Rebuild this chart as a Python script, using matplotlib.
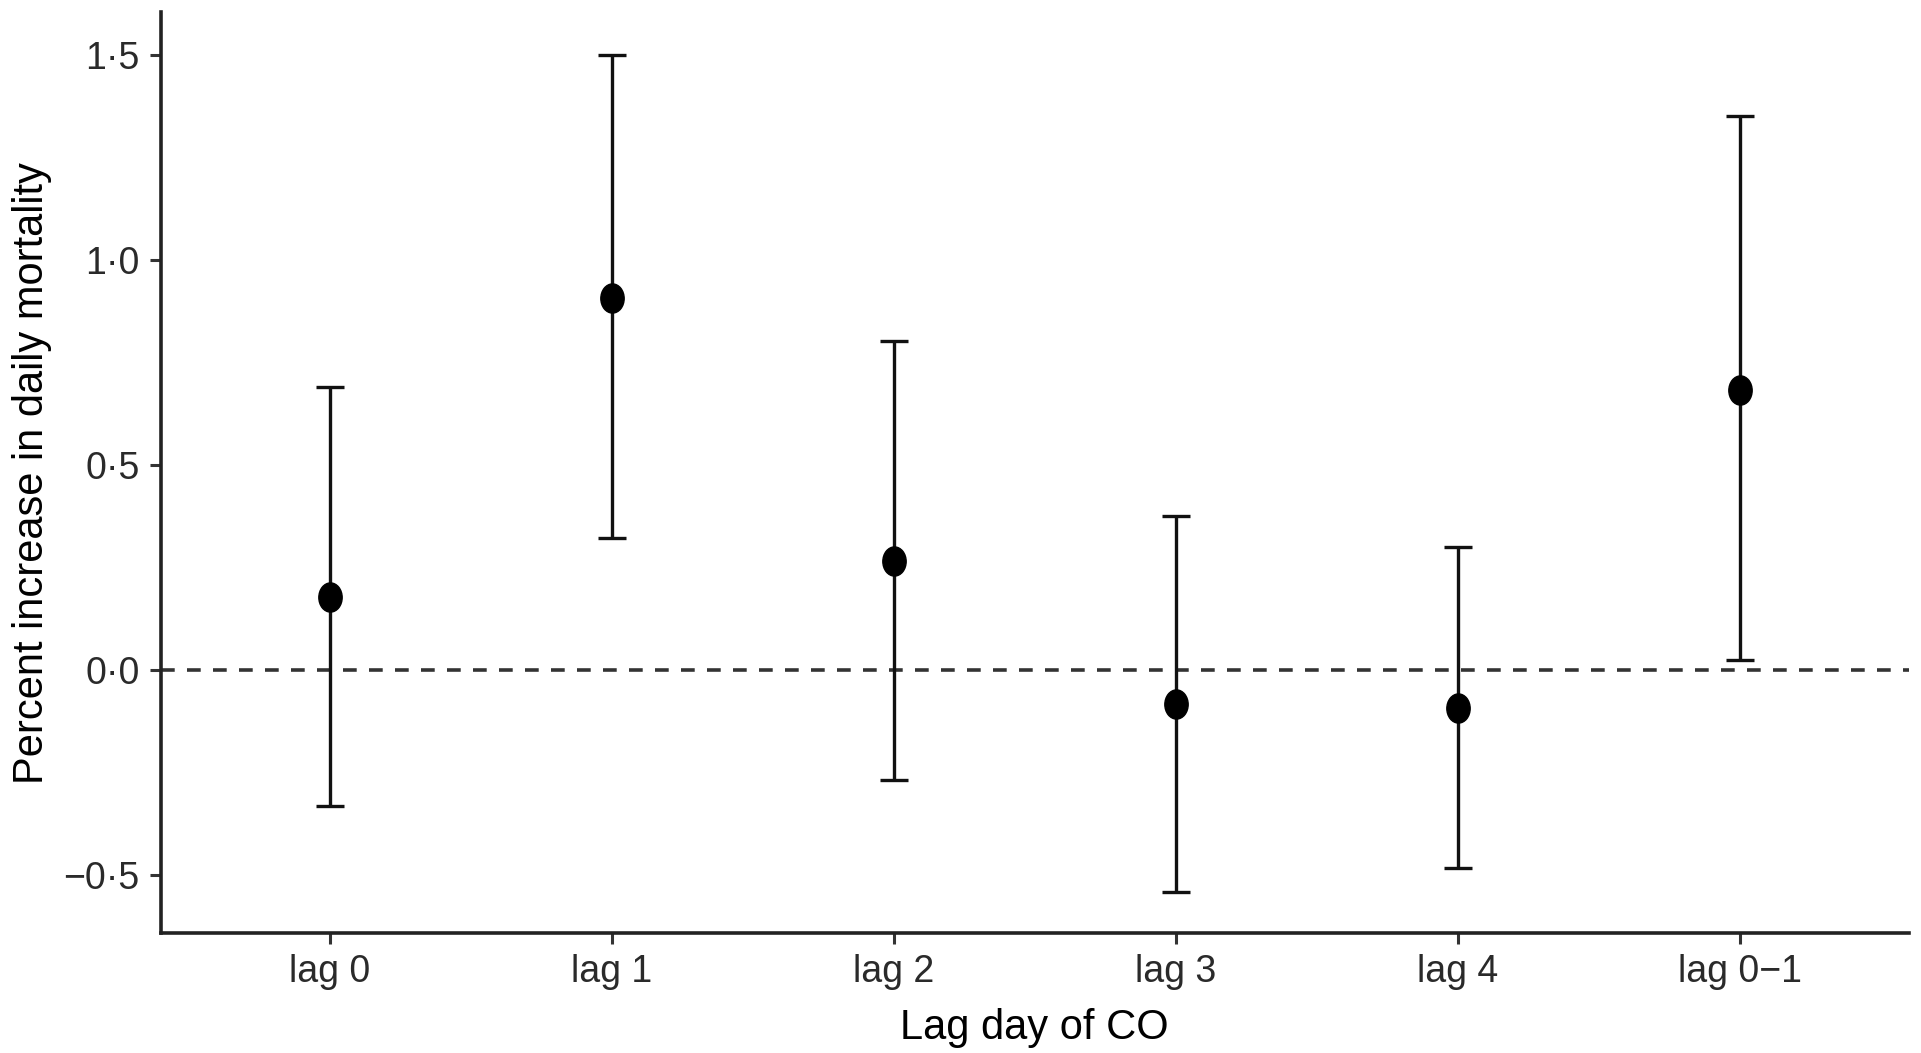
import matplotlib.pyplot as plt
from matplotlib.path import Path
from matplotlib.transforms import Affine2D

# data
lags = ["lag 0", "lag 1", "lag 2", "lag 3", "lag 4", "lag 0\u22121"]
estimate = [0.179, 0.909, 0.266, -0.084, -0.093, 0.684]
lower = [-0.332, 0.323, -0.269, -0.541, -0.484, 0.024]
upper = [0.690, 1.500, 0.804, 0.377, 0.299, 1.351]
yticks = [-0.5, 0.0, 0.5, 1.0, 1.5]

plt.rcParams['font.family'] = ['Liberation Sans', 'DejaVu Sans']

fig = plt.figure(figsize=(19.21, 10.53), dpi=100)
ax = fig.add_axes([0.0836, 0.1135, 0.91, 0.8748])

x = list(range(1, len(lags) + 1))
err_lo = [e - l for e, l in zip(estimate, lower)]
err_hi = [u - e for e, u in zip(estimate, upper)]

# slightly tall dots like in the original
dot = Path.unit_circle().transformed(Affine2D().scale(0.8, 1.0))

ax.axhline(0, color='#333333', lw=2.6, dashes=(3.8, 3.4), zorder=1)
ax.errorbar(x, estimate, yerr=[err_lo, err_hi], fmt='none', ecolor='#111111',
            elinewidth=2.4, capsize=10, capthick=2.4, zorder=2)
ax.plot(x, estimate, linestyle='none', marker=dot, markersize=21,
        color='black', zorder=3)

ax.set_xlim(0.4, 6.6)
ax.set_ylim(-0.643, 1.605)
ax.set_xticks(x)
ax.set_xticklabels(lags)
ax.set_yticks(yticks)
ax.set_yticklabels([("%.1f" % v).replace('.', '\u00b7').replace('-', '\u2212') for v in yticks])

for s in ['top', 'right']:
    ax.spines[s].set_visible(False)
for s in ['left', 'bottom']:
    ax.spines[s].set_linewidth(2.6)
    ax.spines[s].set_color('#222222')

ax.tick_params(axis='both', length=8, width=2.2, color='#333333',
               labelsize=27, labelcolor='#2a2a2a', pad=7)

ax.set_xlabel("Lag day of CO", fontsize=30)
ax.set_ylabel("Percent increase in daily mortality", fontsize=30)
ax.xaxis.set_label_coords(0.5, -0.081)
ax.yaxis.set_label_coords(-0.062, 0.5)

fig.savefig("out.png", dpi=100)
